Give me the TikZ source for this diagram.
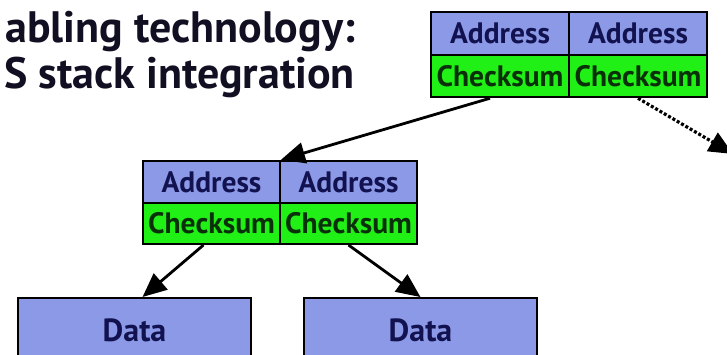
\documentclass[tikz,border=0pt]{standalone}
\usepackage{fontspec}
\setmainfont{PT Sans}
\usetikzlibrary{arrows.meta}
\definecolor{cellblue}{RGB}{139,153,230}
\definecolor{cellgreen}{RGB}{32,240,22}
\definecolor{navytext}{RGB}{18,18,80}
\definecolor{greentext}{RGB}{10,48,10}
\definecolor{titletext}{RGB}{16,16,34}
\tikzset{
  cell/.style={draw=black, line width=2pt, rectangle, inner sep=0pt,
    minimum width=138pt, minimum height=42.5pt, font=\fontsize{29.5}{30}\selectfont\bfseries},
  addr/.style={cell, fill=cellblue, text=navytext},
  csum/.style={cell, fill=cellgreen, text=greentext},
  datablk/.style={cell, fill=cellblue, text=navytext, minimum width=233pt, minimum height=64pt,
    font=\fontsize{32}{32}\selectfont\bfseries},
  title/.style={anchor=base west, inner sep=0pt, text=titletext,
    font=\fontsize{44}{44}\selectfont\bfseries},
  link/.style={line width=2.8pt, -{Triangle[length=24pt,width=21pt]}},
  dotlink/.style={link, line width=3.2pt, dash pattern=on 3pt off 2pt}
}
\begin{document}
\begin{tikzpicture}[x=1pt,y=-1pt]
  \clip (0,0) rectangle (727,354);
  \fill[white] (0,0) rectangle (727,354);

  % heading
  \node[title] (t1) at (5,42) {abling technology:};
  \node[title] (t2) at (4,88) {S stack integration};

  % root block
  \node[addr] (ta1) at (500,33.5) {Address};
  \node[addr] (ta2) at (638,33.5) {Address};
  \node[csum] (tc1) at (500,76) {Checksum};
  \node[csum] (tc2) at (638,76) {Checksum};

  % intermediate block
  \node[addr, minimum width=137pt] (ma1) at (211.5,182) {Address};
  \node[addr, minimum width=137pt] (ma2) at (348.5,182) {Address};
  \node[csum, minimum width=137pt, minimum height=41pt] (mc1) at (211.5,223.5) {Checksum};
  \node[csum, minimum width=137pt, minimum height=41pt] (mc2) at (348.5,223.5) {Checksum};

  % data blocks
  \node[datablk] (d1) at (134.5,330) {Data};
  \node[datablk] (d2) at (420.5,330) {Data};

  % pointers
  \coordinate (off) at (733,154);
  \draw[link] ([xshift=-10pt]tc1.south) -- (ma1.north east);
  \draw[dotlink] (tc2.south) -- (off);
  \draw[link] ([xshift=-8pt]mc1.south) -- ([xshift=8pt]d1.north);
  \draw[link] (mc2.south) -- (d2.north);
\end{tikzpicture}
\end{document}
